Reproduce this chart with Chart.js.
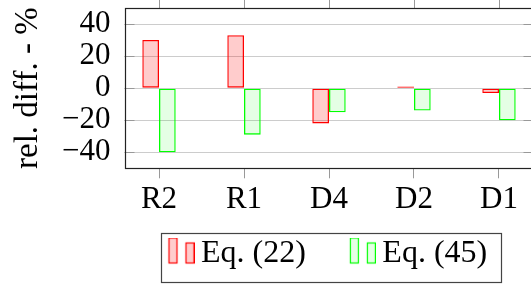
<!DOCTYPE html>
<html>
<head>
<meta charset="utf-8">
<script src="https://cdn.jsdelivr.net/npm/chart.js@4/dist/chart.umd.min.js"></script>
<style>
html, body { margin: 0; padding: 0; overflow: hidden; background: #fff; }
</style>
</head>
<body>
<canvas id="chart" width="540" height="284"></canvas>
<script>
// Data
const categories = ["R2", "R1", "D4", "D2", "D1"];
const seriesLabels = ["Eq. (22)", "Eq. (45)"];
const eq22 = [30, 33, -22, 1, -3];
const eq45 = [-40, -29, -15, -14, -20];
const yTicks = [-40, -20, 0, 20, 40];

// Colors
const COLOR_RED = "#ff0000";
const COLOR_RED_FILL = "rgba(255, 0, 0, 0.2)";
const COLOR_GREEN = "#00ff00";
const COLOR_GREEN_FILL = "rgba(0, 255, 0, 0.1)";

const FAMILY = "'Liberation Serif', 'DejaVu Serif', serif";
const FONT = { family: FAMILY, size: 31 };
const TITLE_FONT = { family: FAMILY, size: 33 };
const LEGEND_FONT = { family: FAMILY, size: 32 };
const LEGEND_BOX = 44;
const LEGEND_PAD = 16.5;

// pgfplots style legend image: two small bars, pushed to the right of the box
function legendIcon(stroke, fill) {
    const c = document.createElement("canvas");
    c.width = LEGEND_BOX + 19;
    c.height = 33;
    const ctx = c.getContext("2d");
    const x = c.width - 26;
    ctx.fillStyle = fill;
    ctx.strokeStyle = stroke;
    ctx.lineWidth = 1.2;
    ctx.fillRect(x + 0.5, 0.5, 8, 25);
    ctx.strokeRect(x + 0.5, 0.5, 8, 25);
    ctx.fillRect(x + 17.5, 5.5, 8, 20);
    ctx.strokeRect(x + 17.5, 5.5, 8, 20);
    return c;
}
const icons = [legendIcon(COLOR_RED, COLOR_RED_FILL), legendIcon(COLOR_GREEN, COLOR_GREEN_FILL)];

// Frame, inner tick marks and legend border
const framePlugin = {
    id: "frame",
    beforeDatasetsDraw(chart) {
        const { ctx, chartArea: a, scales } = chart;
        ctx.save();
        ctx.strokeStyle = "#999999";
        ctx.lineWidth = 1;
        ctx.beginPath();
        yTicks.forEach(v => {
            const y = Math.round(scales.y.getPixelForValue(v)) + 0.5;
            ctx.moveTo(a.left, y); ctx.lineTo(a.left + 10, y);
            ctx.moveTo(a.right - 10, y); ctx.lineTo(a.right, y);
        });
        categories.forEach((c, i) => {
            const x = Math.round(scales.x.getPixelForValue(i)) + 0.5;
            ctx.moveTo(x, a.top - 10); ctx.lineTo(x, a.top);
        });
        ctx.stroke();
        ctx.restore();
    },
    afterDraw(chart) {
        const { ctx, chartArea: a } = chart;
        ctx.save();
        ctx.strokeStyle = "#222222";
        ctx.lineWidth = 1.2;
        ctx.strokeRect(Math.round(a.left) + 0.5, Math.round(a.top) + 0.5,
            Math.round(a.right - a.left), Math.round(a.bottom - a.top));
        const hb = chart.legend.legendHitBoxes;
        if (hb && hb.length) {
            const last = hb[hb.length - 1];
            const x0 = hb[0].left + LEGEND_BOX - 24.5, x1 = last.left + last.width + 13;
            const y0 = hb[0].top - 5, y1 = hb[0].top + 44;
            ctx.strokeStyle = "#444444";
            ctx.strokeRect(Math.round(x0) + 0.5, Math.round(y0) + 0.5, Math.round(x1 - x0), Math.round(y1 - y0));
        }
        ctx.restore();
    }
};

new Chart("chart", {
    type: "bar",
    data: {
        datasets: [{
            label: seriesLabels[0],
            data: eq22.map((v, i) => ({ x: i, y: v })),
            backgroundColor: COLOR_RED_FILL,
            borderColor: COLOR_RED,
            borderWidth: 1.3,
            borderSkipped: false
        },
        {
            label: seriesLabels[1],
            data: eq45.map((v, i) => ({ x: i, y: v })),
            backgroundColor: COLOR_GREEN_FILL,
            borderColor: COLOR_GREEN,
            borderWidth: 1.3,
            borderSkipped: false
        }]
    },
    options: {
        responsive: false,
        animation: false,
        categoryPercentage: 0.393,
        barPercentage: 1,
        layout: { padding: { left: 0, right: 6.5, top: 8, bottom: 4 } },
        plugins: {
            tooltip: { enabled: false },
            legend: {
                position: "bottom",
                align: "start",
                fullSize: false,
                maxHeight: LEGEND_FONT.size + LEGEND_PAD + 10,
                labels: {
                    usePointStyle: true,
                    pointStyleWidth: LEGEND_BOX,
                    padding: LEGEND_PAD,
                    color: "#000",
                    font: LEGEND_FONT,
                    generateLabels(chart) {
                        const items = Chart.defaults.plugins.legend.labels.generateLabels(chart);
                        items.forEach((it, i) => { it.pointStyle = icons[i]; });
                        return items;
                    }
                }
            }
        },
        scales: {
            x: {
                type: "linear",
                min: -0.406,
                max: 4.406,
                offset: false,
                afterBuildTicks: s => { s.ticks = categories.map((c, i) => ({ value: i })); },
                afterFit: s => { s.paddingLeft = 0; s.paddingRight = 0; },
                ticks: {
                    callback: v => categories[Math.round(v)],
                    color: "#000",
                    font: FONT,
                    padding: 3,
                    maxRotation: 0,
                    autoSkip: false
                },
                grid: { drawOnChartArea: false, offset: false, tickLength: 10, color: "#999999" },
                border: { display: false }
            },
            y: {
                min: -50,
                max: 50,
                afterBuildTicks: s => { s.ticks = yTicks.map(v => ({ value: v })); },
                afterFit: s => { s.width = 124.5; s.paddingTop = 0; s.paddingBottom = 0; },
                ticks: {
                    callback: v => String(v).replace("-", "\u2212"),
                    color: "#000",
                    font: FONT,
                    padding: 14,
                    autoSkip: false
                },
                grid: { color: "#cccccc", drawTicks: false },
                border: { display: false },
                title: {
                    display: true,
                    text: "rel. diff. - %",
                    color: "#000",
                    font: TITLE_FONT,
                    padding: { top: 9, bottom: 0 }
                }
            }
        }
    },
    plugins: [framePlugin]
});
</script>
</body>
</html>
